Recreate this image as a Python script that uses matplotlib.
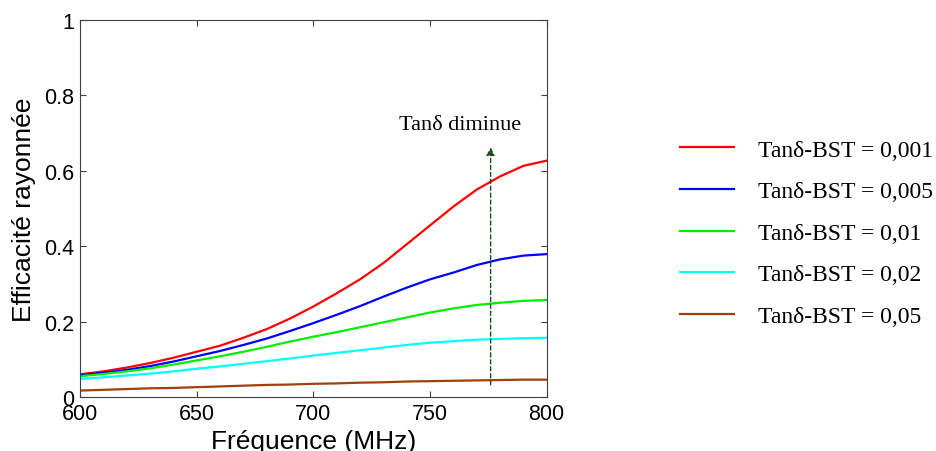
import numpy as np
import matplotlib
matplotlib.use('Agg')
import matplotlib.pyplot as plt

# data (MHz, radiated efficiency)
freq = [600, 610, 620, 630, 640, 650, 660, 670, 680, 690, 700,
        710, 720, 730, 740, 750, 760, 770, 780, 790, 800]
eff_0001 = [0.060, 0.068, 0.078, 0.090, 0.104, 0.120, 0.136, 0.157, 0.180, 0.208, 0.240,
            0.275, 0.312, 0.355, 0.405, 0.455, 0.505, 0.550, 0.585, 0.613, 0.627]
eff_0005 = [0.058, 0.064, 0.072, 0.082, 0.094, 0.108, 0.122, 0.138, 0.155, 0.175, 0.196,
            0.218, 0.241, 0.266, 0.290, 0.312, 0.330, 0.350, 0.365, 0.375, 0.379]
eff_001 = [0.055, 0.061, 0.068, 0.076, 0.086, 0.097, 0.108, 0.120, 0.133, 0.147, 0.160,
           0.172, 0.185, 0.198, 0.211, 0.224, 0.235, 0.244, 0.250, 0.255, 0.257]
eff_002 = [0.048, 0.052, 0.057, 0.062, 0.068, 0.075, 0.081, 0.088, 0.095, 0.102, 0.110,
           0.117, 0.124, 0.131, 0.138, 0.144, 0.148, 0.152, 0.154, 0.156, 0.157]
eff_005 = [0.017, 0.019, 0.021, 0.023, 0.024, 0.026, 0.028, 0.030, 0.032, 0.033, 0.035,
           0.036, 0.038, 0.039, 0.041, 0.042, 0.043, 0.044, 0.045, 0.046, 0.046]

labels = ['Tanδ-BST = 0,001', 'Tanδ-BST = 0,005', 'Tanδ-BST = 0,01',
          'Tanδ-BST = 0,02', 'Tanδ-BST = 0,05']
colors = ['#ff0000', '#0000ff', '#00ee00', '#00ffff', '#a0400a']
series = [eff_0001, eff_0005, eff_001, eff_002, eff_005]

fig = plt.figure(figsize=(9.36, 4.52), dpi=100)
ax = fig.add_axes([0.0855, 0.1195, 0.4985, 0.834])

for y, c, lab in zip(series, colors, labels):
    ax.plot(freq, y, color=c, lw=1.6, label=lab)

# arrow "Tan delta diminue"
ax.annotate('', xy=(776, 0.67), xytext=(776, 0.025),
            arrowprops=dict(arrowstyle='-|>', color='#1e4d1e', lw=1.0,
                            linestyle=(0, (3, 2)), mutation_scale=12))
ax.text(763, 0.697, 'Tanδ diminue', ha='center', va='bottom',
        fontsize=16, family='Liberation Serif')

ax.set_xlim(600, 800)
ax.set_ylim(0, 1)
ax.set_xticks([600, 650, 700, 750, 800])
ax.set_yticks([0, 0.2, 0.4, 0.6, 0.8, 1])
ax.set_yticklabels(['0', '0.2', '0.4', '0.6', '0.8', '1'])
ax.tick_params(direction='in', top=True, right=True, length=4,
               labelsize=15.5, color='#404040', pad=4)
for lbl in ax.get_xticklabels() + ax.get_yticklabels():
    lbl.set_family('Liberation Sans')
for sp in ax.spines.values():
    sp.set_color('#404040')
ax.set_xlabel('Fréquence (MHz)', fontsize=19, family='Liberation Sans', labelpad=4)
ax.set_ylabel('Efficacité rayonnée', fontsize=19, family='Liberation Sans', labelpad=6)

leg = fig.legend(loc='center left', bbox_to_anchor=(0.704, 0.482), frameon=False,
                 prop={'family': 'Liberation Serif', 'size': 17},
                 handlelength=2.3, handletextpad=1.0, labelspacing=0.85)

fig.savefig('out.png', dpi=100)
